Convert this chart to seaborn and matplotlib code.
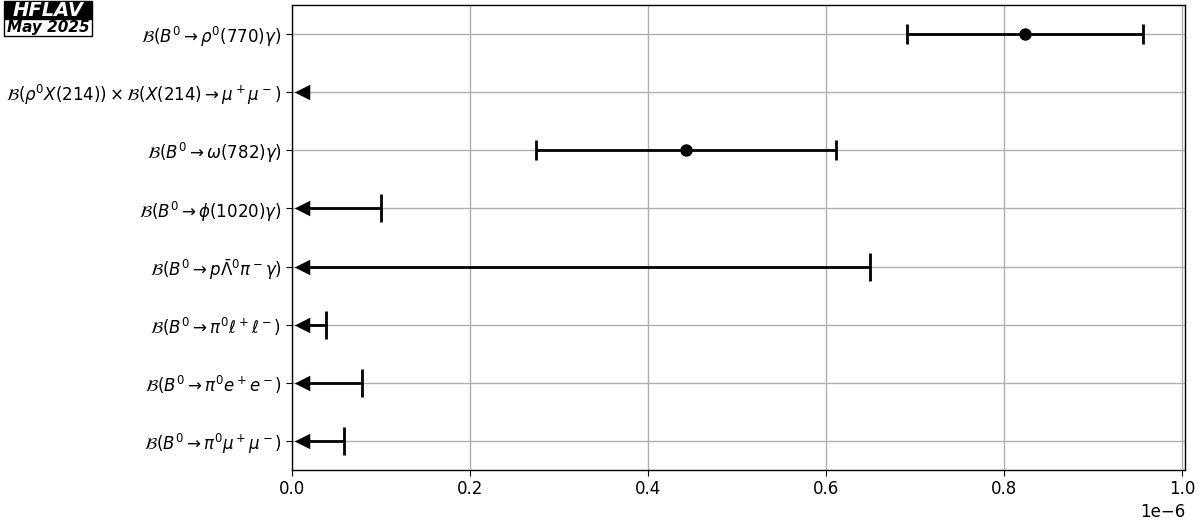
import matplotlib
matplotlib.use("Agg")
import matplotlib.pyplot as plt
import numpy as np
import pandas as pd
import seaborn as sns
from matplotlib.patches import Rectangle

# rows, top to bottom
labels = [
    r"$\mathcal{B}(B^0 \to \rho^0(770)\gamma)$",
    r"$\mathcal{B}(\rho^0 X(214)) \times \mathcal{B}(X(214) \to \mu^+\mu^-)$",
    r"$\mathcal{B}(B^0 \to \omega(782)\gamma)$",
    r"$\mathcal{B}(B^0 \to \phi(1020)\gamma)$",
    r"$\mathcal{B}(B^0 \to p\bar{\Lambda}^0\pi^-\gamma)$",
    r"$\mathcal{B}(B^0 \to \pi^0\ell^+\ell^-)$",
    r"$\mathcal{B}(B^0 \to \pi^0 e^+e^-)$",
    r"$\mathcal{B}(B^0 \to \pi^0\mu^+\mu^-)$",
]

# measurements (value, lower error, upper error)
meas_label = [labels[0], labels[2]]
meas_val = [0.824e-6, 0.443e-6]
meas_lo = [0.133e-6, 0.169e-6]
meas_hi = [0.132e-6, 0.168e-6]

# upper limits
ul_label = [labels[1], labels[3], labels[4], labels[5], labels[6], labels[7]]
ul_val = [0.004e-6, 0.100e-6, 0.649e-6, 0.038e-6, 0.0787e-6, 0.0584e-6]
ul_start = 0.0112e-6

ypos = {lab: len(labels) - 1 - i for i, lab in enumerate(labels)}

meas = pd.DataFrame({"label": meas_label, "val": meas_val, "lo": meas_lo, "hi": meas_hi})
meas["y"] = meas["label"].map(ypos)
ul = pd.DataFrame({"label": ul_label, "val": ul_val})
ul["y"] = ul["label"].map(ypos)
ul["start"] = ul_start
ul_bar = ul[ul["val"] > ul["start"]]

sns.set_style("ticks", rc={"text.color": "black", "axes.labelcolor": "black",
                           "xtick.color": "black", "ytick.color": "black",
                           "axes.edgecolor": "black"})
plt.rcParams["font.family"] = ["DejaVu Sans"]
plt.rcParams["mathtext.fontset"] = "dejavusans"

fig = plt.figure(figsize=(12, 5.28), dpi=100)
ax = fig.add_axes([0.2433, 0.1098, 0.9875 - 0.2433, 0.9905 - 0.1098])
ax.grid(True, color="#b0b0b0", lw=1.0)
ax.set_axisbelow(True)

ax.errorbar(meas["val"], meas["y"], xerr=[meas["lo"], meas["hi"]], fmt="none",
            ecolor="black", elinewidth=2, capsize=7, capthick=2, zorder=3)
sns.scatterplot(data=meas, x="val", y="y", marker="o", s=80, color="black",
                linewidth=0, ax=ax, zorder=4)

ax.hlines(ul_bar["y"], ul_bar["start"], ul_bar["val"], color="black", lw=2, zorder=3)
ax.plot(ul_bar["val"], ul_bar["y"], ls="none", marker="|", ms=20, mew=2, color="black", zorder=3)
sns.scatterplot(data=ul, x="start", y="y", marker="<", s=125, color="black",
                linewidth=0, ax=ax, zorder=4)

ax.set_xlim(0, 1.0035e-6)
ax.set_ylim(-0.5, len(labels) - 0.5)
ax.set_xticks(np.arange(0, 1.01e-6, 0.2e-6))
ax.set_yticks([ypos[l] for l in labels])
ax.set_yticklabels(labels)
ax.tick_params(axis="both", labelsize=12, colors="black", length=4)
ax.xaxis.get_offset_text().set_fontsize(12)
ax.set_xlabel("")
ax.set_ylabel("")
for sp in ax.spines.values():
    sp.set_color("black")
    sp.set_linewidth(1.0)

# HFLAV logo
W, H = 1200.0, 528.0
fig.patches.append(Rectangle((4 / W, 1 - 19 / H), 88 / W, 18 / H, transform=fig.transFigure,
                             facecolor="black", edgecolor="black", lw=1))
fig.patches.append(Rectangle((4 / W, 1 - 36 / H), 88 / W, 17 / H, transform=fig.transFigure,
                             facecolor="white", edgecolor="black", lw=1))
fig.text(48 / W, 1 - 10.5 / H, "HFLAV", ha="center", va="center", color="white",
         fontsize=14, fontweight="bold", fontstyle="italic")
fig.text(48 / W, 1 - 27.5 / H, "May 2025", ha="center", va="center", color="black",
         fontsize=11, fontweight="bold", fontstyle="italic")

fig.savefig("out.png", dpi=100)
